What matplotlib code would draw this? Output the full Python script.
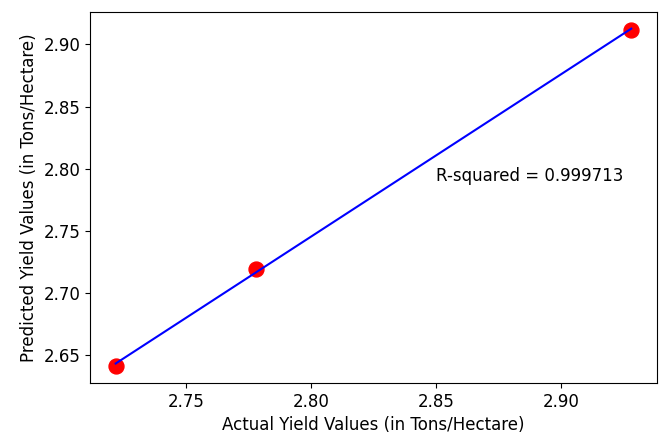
import matplotlib
matplotlib.use("Agg")
import matplotlib.pyplot as plt
import numpy as np

# values
actual = np.array([2.722, 2.778, 2.928])
predicted = np.array([2.641, 2.719, 2.912])
r_squared_label = "R-squared = 0.999713"

fig = plt.figure(figsize=(6.61, 4.37), dpi=100)
ax = fig.add_axes([0.136, 0.124, 0.858, 0.849])

ax.scatter(actual, predicted, color="red", s=115, zorder=2)

# regression line through the points
slope, intercept = np.polyfit(actual, predicted, 1)
ax.plot(actual, slope * actual + intercept, color="blue", lw=1.5, zorder=3)

ax.text(2.85, 2.79, r_squared_label, fontsize=12)

ax.set_xticks([2.75, 2.80, 2.85, 2.90])
ax.set_yticks([2.65, 2.70, 2.75, 2.80, 2.85, 2.90])
ax.tick_params(labelsize=12)
ax.set_xlabel("Actual Yield Values (in Tons/Hectare)", fontsize=12)
ax.set_ylabel("Predicted Yield Values (in Tons/Hectare)", fontsize=12)

fig.savefig("out.png", dpi=100)
